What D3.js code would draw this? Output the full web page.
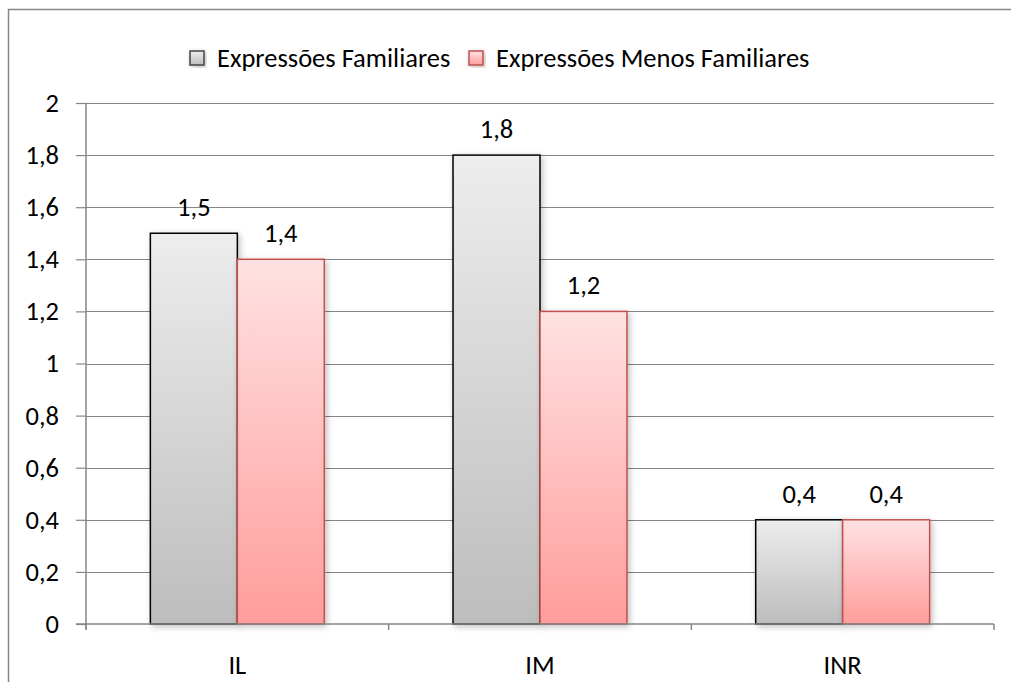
<!DOCTYPE html>
<html>
<head>
<meta charset="utf-8">
<script src="https://cdn.jsdelivr.net/npm/d3@7"></script>
<style>
  html, body { margin: 0; padding: 0; background: #fff; }
  svg { display: block; font-family: Carlito, Lato, "Noto Sans", sans-serif; }
</style>
</head>
<body>
<svg id="chart" width="1011" height="682"></svg>
<script>
// Mean scores per condition
const categories = ["IL", "IM", "INR"];
const seriesNames = ["Expressões Familiares", "Expressões Menos Familiares"];
const familiar = [1.5, 1.8, 0.4];
const lessFamiliar = [1.4, 1.2, 0.4];
const yTicks = [0, 0.2, 0.4, 0.6, 0.8, 1, 1.2, 1.4, 1.6, 1.8, 2];

const seriesValues = [familiar, lessFamiliar];
const fmt = v => String(v).replace(".", ",");
const FONT = "Carlito, Lato, 'Noto Sans', sans-serif";
const FS = 26.5;

const svg = d3.select("#chart");
const W = 1011, H = 682;
const plot = { left: 86, right: 994, top: 103, bottom: 624 };

const defs = svg.append("defs");
function gradient(id, top, bottom) {
  const g = defs.append("linearGradient").attr("id", id)
    .attr("x1", 0).attr("y1", 0).attr("x2", 0).attr("y2", 1);
  g.append("stop").attr("offset", "0%").attr("stop-color", top);
  g.append("stop").attr("offset", "100%").attr("stop-color", bottom);
}
gradient("gGrey", "#ededed", "#bdbdbd");
gradient("gPink", "#ffe2e2", "#ff9d9b");
const sh = defs.append("filter").attr("id", "shadow")
  .attr("x", "-20%").attr("y", "-20%").attr("width", "140%").attr("height", "140%");
sh.append("feDropShadow").attr("dx", 2).attr("dy", 2).attr("stdDeviation", 3)
  .attr("flood-color", "#000").attr("flood-opacity", 0.25);

const fills = ["url(#gGrey)", "url(#gPink)"];
const strokes = ["#000000", "#c0504d"];

// Outer chart frame
svg.append("rect").attr("x", 8.5).attr("y", 9.5).attr("width", W).attr("height", H)
  .attr("fill", "none").attr("stroke", "#868686").attr("stroke-width", 1.5);

const y = d3.scaleLinear().domain([0, 2]).range([plot.bottom, plot.top]);
const x0 = d3.scaleBand().domain(categories).range([plot.left, plot.right]).padding(0);
const x1 = d3.scaleBand().domain(seriesNames).range([0, x0.bandwidth()])
  .paddingInner(0).paddingOuter(0.74);

// Horizontal gridlines
svg.append("g").selectAll("line").data(yTicks.filter(t => t > 0)).join("line")
  .attr("x1", plot.left).attr("x2", plot.right)
  .attr("y1", d => Math.round(y(d)) + 0.5).attr("y2", d => Math.round(y(d)) + 0.5)
  .attr("stroke", "#868686").attr("stroke-width", 1.2);

// Y axis
const yAxis = d3.axisLeft(y).tickValues(yTicks).tickFormat(fmt).tickSize(10).tickPadding(17);
const gy = svg.append("g").attr("transform", `translate(${plot.left},0)`).call(yAxis);
gy.select(".domain").remove();
gy.append("line").attr("x1", 0).attr("x2", 0).attr("y1", plot.top).attr("y2", plot.bottom + 5)
  .attr("stroke", "#868686").attr("stroke-width", 1.5);
gy.selectAll(".tick line").attr("stroke", "#868686").attr("stroke-width", 1.2);
gy.selectAll(".tick text").attr("font-size", FS).attr("fill", "#000").attr("font-family", FONT);

// Bars
const groups = svg.append("g").selectAll("g").data(categories).join("g")
  .attr("transform", d => `translate(${x0(d)},0)`);
groups.selectAll("rect")
  .data((c, i) => seriesNames.map((s, k) => ({ s, k, v: seriesValues[k][i] })))
  .join("rect")
  .attr("x", d => x1(d.s))
  .attr("width", x1.bandwidth())
  .attr("y", d => y(d.v))
  .attr("height", d => y(0) - y(d.v))
  .attr("fill", d => fills[d.k])
  .attr("stroke", d => strokes[d.k])
  .attr("stroke-width", 1.5)
  .attr("filter", "url(#shadow)");

// Value labels
groups.selectAll("text")
  .data((c, i) => seriesNames.map((s, k) => ({ s, k, v: seriesValues[k][i] })))
  .join("text")
  .attr("x", d => x1(d.s) + x1.bandwidth() / 2)
  .attr("y", d => y(d.v) - 17)
  .attr("text-anchor", "middle")
  .attr("font-size", FS).attr("fill", "#000")
  .text(d => fmt(d.v));

// X axis
const xAxis = d3.axisBottom(x0).tickSize(0).tickPadding(31);
const gx = svg.append("g").attr("transform", `translate(0,${plot.bottom})`).call(xAxis);
gx.select(".domain").remove();
gx.append("line").attr("x1", plot.left - 10).attr("x2", plot.right)
  .attr("y1", 0).attr("y2", 0).attr("stroke", "#868686").attr("stroke-width", 1.5);
gx.selectAll(".tick text").attr("font-size", FS).attr("fill", "#000").attr("font-family", FONT);
gx.append("g").selectAll("line")
  .data([plot.left, ...categories.map(c => x0(c) + x0.bandwidth())])
  .join("line")
  .attr("x1", d => d).attr("x2", d => d).attr("y1", 0).attr("y2", 6)
  .attr("stroke", "#868686").attr("stroke-width", 1.5);

// Legend
const legend = svg.append("g").attr("transform", "translate(190,51)");
const legendX = [0, 279];
seriesNames.forEach((name, k) => {
  const item = legend.append("g").attr("transform", `translate(${legendX[k]},0)`);
  item.append("rect").attr("x", 0).attr("y", 0).attr("width", 14).attr("height", 14)
    .attr("fill", fills[k]).attr("stroke", k === 0 ? "#444" : "#c0504d").attr("stroke-width", 1.5)
    .attr("filter", "url(#shadow)");
  item.append("text").attr("x", 27).attr("y", 16).attr("font-size", FS).attr("fill", "#000")
    .text(name);
});
</script>
</body>
</html>
